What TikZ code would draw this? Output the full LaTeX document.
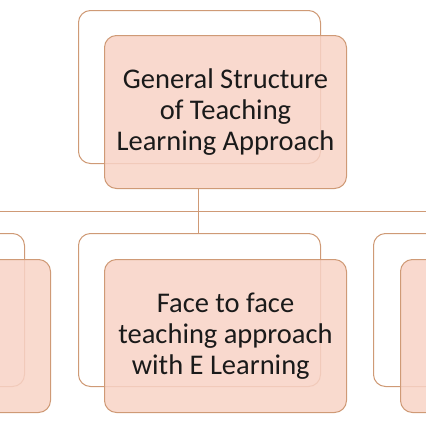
\documentclass[tikz,border=0pt]{standalone}
\usepackage{fontspec}
\setmainfont{Carlito}
\definecolor{boxfill}{HTML}{F8D3C6}
\definecolor{boxline}{HTML}{CF9A76}
\definecolor{txt}{HTML}{1A1A1A}
\begin{document}
\begin{tikzpicture}[
  backframe/.style={draw=boxline,line width=1pt,rounded corners=12pt,fill=white,
    minimum width=242pt,minimum height=153pt,inner sep=0pt},
  frontbox/.style={draw=boxline,line width=1pt,rounded corners=12pt,fill=boxfill,fill opacity=0.85,text opacity=1,
    minimum width=242pt,minimum height=153pt,inner sep=0pt,align=center,text=txt,
    font=\fontsize{28.5}{31}\selectfont},
  link/.style={draw=boxline,line width=1pt}]
\useasboundingbox (0pt,0pt) rectangle (426pt,-426pt);
\clip (0pt,0pt) rectangle (426pt,-426pt);
% top
\node[backframe] (topback) at (199.5pt,-87pt) {};
\node[frontbox] (top) at (225.5pt,-112pt) {General Structure\\of Teaching\\Learning Approach};
% bus
\coordinate (busL) at (0pt,-211.5pt);
\coordinate (busR) at (426pt,-211.5pt);
\coordinate (busM) at (198.5pt,-211.5pt);
% middle
\node[backframe] (midback) at (199.5pt,-310pt) {};
\node[frontbox] (mid) at (225.5pt,-336pt) {Face to face\\teaching approach\\with E Learning\,\,};
% left
\node[backframe] (leftback) at (-96.5pt,-310pt) {};
\node[frontbox] (left) at (-70.5pt,-336pt) {};
% right
\node[backframe] (rightback) at (494.5pt,-310pt) {};
\node[frontbox] (right) at (521.5pt,-336pt) {};
% connectors
\draw[link] (top.south -| busM) -- (busM);
\draw[link] (busL) -- (busR);
\draw[link] (busM) -- (midback.north -| busM);
\end{tikzpicture}
\end{document}
